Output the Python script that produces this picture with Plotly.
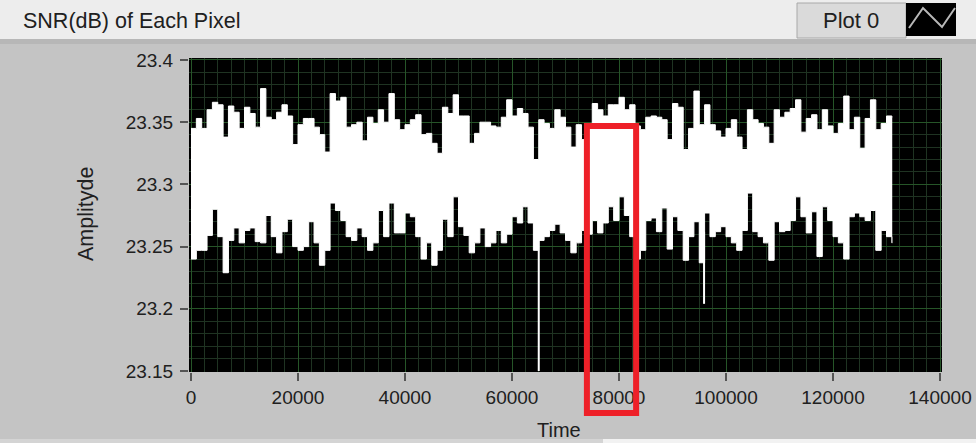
import plotly.graph_objects as go

# ---- data -------------------------------------------------------------
n_samples = 131072
step = 1000

# per-1000-sample envelope of the SNR trace (max / min in each block)
upper = [
    23.345, 23.353, 23.345, 23.360, 23.366, 23.364, 23.338, 23.363, 23.358, 23.345,
    23.362, 23.357, 23.346, 23.377, 23.354, 23.352, 23.358, 23.364, 23.355, 23.332,
    23.348, 23.353, 23.353, 23.346, 23.340, 23.326, 23.373, 23.367, 23.370, 23.346,
    23.348, 23.350, 23.335, 23.354, 23.349, 23.360, 23.350, 23.373, 23.352, 23.344,
    23.348, 23.352, 23.356, 23.340, 23.341, 23.333, 23.325, 23.362, 23.357, 23.372,
    23.355, 23.355, 23.333, 23.341, 23.350, 23.350, 23.347, 23.346, 23.354, 23.368,
    23.355, 23.361, 23.357, 23.346, 23.320, 23.352, 23.349, 23.345, 23.360, 23.354,
    23.346, 23.330, 23.348, 23.336, 23.345, 23.365, 23.360, 23.355, 23.364, 23.364,
    23.370, 23.360, 23.364, 23.347, 23.344, 23.354, 23.355, 23.354, 23.352, 23.336,
    23.365, 23.362, 23.328, 23.345, 23.375, 23.348, 23.364, 23.348, 23.343, 23.338,
    23.345, 23.352, 23.338, 23.328, 23.360, 23.352, 23.349, 23.346, 23.333, 23.360,
    23.354, 23.358, 23.361, 23.368, 23.342, 23.353, 23.356, 23.344, 23.360, 23.347,
    23.341, 23.349, 23.371, 23.344, 23.354, 23.329, 23.353, 23.368, 23.344, 23.349,
    23.355, 23.354,
]
lower = [
    23.240, 23.247, 23.247, 23.259, 23.280, 23.258, 23.229, 23.255, 23.265, 23.253,
    23.263, 23.265, 23.254, 23.253, 23.275, 23.258, 23.245, 23.262, 23.272, 23.250,
    23.247, 23.250, 23.270, 23.253, 23.235, 23.247, 23.285, 23.279, 23.271, 23.258,
    23.255, 23.265, 23.258, 23.247, 23.253, 23.279, 23.258, 23.285, 23.261, 23.261,
    23.277, 23.274, 23.258, 23.240, 23.253, 23.235, 23.247, 23.272, 23.258, 23.290,
    23.266, 23.259, 23.245, 23.253, 23.265, 23.250, 23.253, 23.263, 23.253, 23.260,
    23.274, 23.269, 23.282, 23.269, 23.247, 23.255, 23.258, 23.263, 23.268, 23.261,
    23.255, 23.245, 23.253, 23.263, 23.260, 23.271, 23.261, 23.269, 23.282, 23.271,
    23.290, 23.275, 23.258, 23.240, 23.247, 23.271, 23.273, 23.262, 23.281, 23.248,
    23.274, 23.263, 23.239, 23.258, 23.270, 23.237, 23.277, 23.258, 23.262, 23.266,
    23.258, 23.253, 23.247, 23.263, 23.293, 23.262, 23.258, 23.253, 23.239, 23.270,
    23.262, 23.263, 23.271, 23.290, 23.274, 23.261, 23.278, 23.242, 23.282, 23.271,
    23.258, 23.253, 23.240, 23.274, 23.277, 23.274, 23.271, 23.279, 23.247, 23.263,
    23.258, 23.253,
]

# isolated drop-outs
spike_time = [65000, 95900]
spike_value = [23.150, 23.204]
spike_base = [23.262, 23.262]

# highlighted window
box_time = [74000, 83200]
box_top = 23.347

y_ticks = [23.15, 23.2, 23.25, 23.3, 23.35, 23.4]
y_tick_text = ["23.15", "23.2", "23.25", "23.3", "23.35", "23.4"]
x_ticks = [0, 20000, 40000, 60000, 80000, 100000, 120000, 140000]
x_tick_text = ["0", "20000", "40000", "60000", "80000", "100000", "120000", "140000"]

# ---- geometry helpers ---------------------------------------------------
W, H = 976, 443
L, R, T, B = 189, 34, 58, 71
PW, PH = W - L - R, H - T - B
Y_RANGE = [23.1492, 23.4016]
X_RANGE = [-374, 140374]


def px(x):
    return (x - L) / PW


def py(y):
    return (H - B - y) / PH


def vy(v):
    return (v - Y_RANGE[0]) / (Y_RANGE[1] - Y_RANGE[0])


FONT = "Liberation Sans, Arial, sans-serif"
TXT = "#202020"

time = list(range(0, n_samples, step)) + [n_samples]
upper_ext = upper + [upper[-1]]
lower_ext = lower + [lower[-1]]

fig = go.Figure()
fig.add_trace(go.Scatter(
    x=time, y=lower_ext, mode="lines", line=dict(color="white", width=1, shape="hv"),
    hoverinfo="skip", showlegend=False))
fig.add_trace(go.Scatter(
    x=time, y=upper_ext, mode="lines", line=dict(color="white", width=1, shape="hv"),
    fill="tonexty", fillcolor="white", name="Plot 0", showlegend=False))

sx, sy = [], []
for t, v, b in zip(spike_time, spike_value, spike_base):
    sx += [t, t, None]
    sy += [b, v, None]
fig.add_trace(go.Scatter(x=sx, y=sy, mode="lines", line=dict(color="white", width=2),
                         hoverinfo="skip", showlegend=False))

shapes = [
    # header strip
    dict(type="rect", xref="paper", yref="paper", x0=px(0), x1=px(W), y0=py(39), y1=py(0),
         fillcolor="#ededed", line=dict(width=0), layer="below"),
    dict(type="rect", xref="paper", yref="paper", x0=px(0), x1=px(W), y0=py(44), y1=py(39),
         fillcolor="#b7b7b7", line=dict(width=0), layer="below"),
    # footer strip
    dict(type="rect", xref="paper", yref="paper", x0=px(0), x1=px(603), y0=py(H), y1=py(439),
         fillcolor="#d4d4d4", line=dict(width=0), layer="below"),
    dict(type="rect", xref="paper", yref="paper", x0=px(603), x1=px(W), y0=py(H), y1=py(439),
         fillcolor="#f2f2f2", line=dict(width=0), layer="below"),
    # legend box
    dict(type="rect", xref="paper", yref="paper", x0=px(797), x1=px(906), y0=py(38), y1=py(3),
         fillcolor="#dadada", line=dict(color="#a8a8a8", width=1), layer="below"),
    dict(type="rect", xref="paper", yref="paper", x0=px(906), x1=px(956), y0=py(36), y1=py(3),
         fillcolor="black", line=dict(width=0), layer="below"),
    dict(type="path", xref="paper", yref="paper",
         path=f"M {px(909)},{py(28)} L {px(923)},{py(8)} L {px(942)},{py(27)} L {px(955)},{py(8)}",
         line=dict(color="#b8b8b8", width=2)),
    # highlight window
    dict(type="rect", xref="x", yref="paper", x0=box_time[0], x1=box_time[1],
         y0=py(413), y1=vy(box_top), line=dict(color="#ee2028", width=6),
         fillcolor="rgba(0,0,0,0)", layer="above"),
]

annotations = [
    dict(text="SNR(dB) of Each Pixel", xref="paper", yref="paper", x=px(21), y=py(21),
         xanchor="left", yanchor="middle", showarrow=False, font=dict(family=FONT, size=21.5, color=TXT)),
    dict(text="Plot 0", xref="paper", yref="paper", x=px(851), y=py(21),
         xanchor="center", yanchor="middle", showarrow=False, font=dict(family=FONT, size=22, color=TXT)),
    dict(text="Amplityde", xref="paper", yref="paper", x=px(86), y=py(214), textangle=-90,
         xanchor="center", yanchor="middle", showarrow=False, font=dict(family=FONT, size=21.5, color=TXT)),
    dict(text="Time", xref="paper", yref="paper", x=px(559), y=py(430),
         xanchor="center", yanchor="middle", showarrow=False, font=dict(family=FONT, size=20, color=TXT)),
]

fig.update_layout(
    width=W, height=H, margin=dict(l=L, r=R, t=T, b=B, autoexpand=False),
    paper_bgcolor="#c4c4c4", plot_bgcolor="black",
    font=dict(family=FONT, size=19, color=TXT),
    shapes=shapes, annotations=annotations, showlegend=False,
)
fig.update_xaxes(
    range=X_RANGE, tickmode="array", tickvals=x_ticks, ticktext=x_tick_text,
    ticks="outside", ticklen=8, tickwidth=2, tickcolor="#555555",
    showgrid=True, gridcolor="#265528", gridwidth=1, zeroline=False, showline=False,
    minor=dict(tickmode="linear", tick0=0, dtick=2500, showgrid=True, gridcolor="#1f3322", gridwidth=1),
    tickfont=dict(family=FONT, size=19, color=TXT),
)
fig.update_yaxes(
    range=Y_RANGE, tickmode="array", tickvals=y_ticks, ticktext=y_tick_text,
    ticks="outside", ticklen=8, tickwidth=2, tickcolor="#555555", ticklabelstandoff=3,
    showgrid=True, gridcolor="#265528", gridwidth=1, zeroline=False, showline=False,
    minor=dict(tickmode="linear", tick0=23.15, dtick=0.01, showgrid=True, gridcolor="#1f3322", gridwidth=1),
    tickfont=dict(family=FONT, size=19, color=TXT),
)

fig.write_html("out.html")
